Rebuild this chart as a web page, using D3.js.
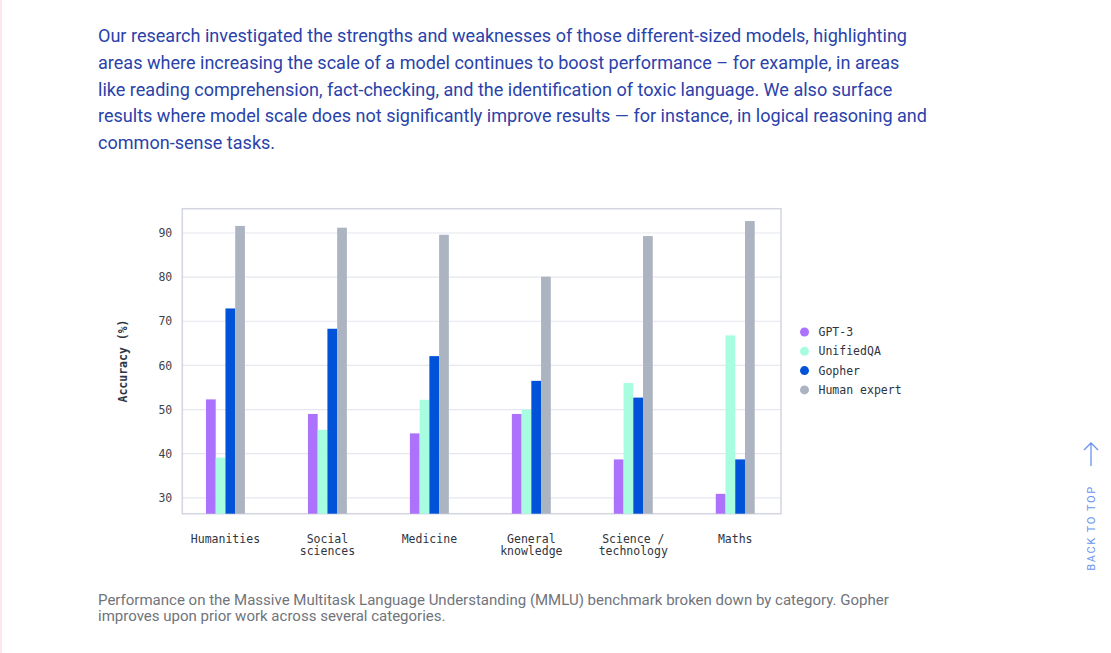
<!DOCTYPE html>
<html>
<head>
<meta charset="utf-8">
<script src="https://cdn.jsdelivr.net/npm/d3@7"></script>
<style>
  html, body { margin: 0; padding: 0; background: #ffffff; }
  svg { display: block; }
</style>
</head>
<body>
<svg id="chart" width="1111" height="653"></svg>
<script>
// ---- Data ----
const categories = ["Humanities", "Social\nsciences", "Medicine", "General\nknowledge", "Science /\ntechnology", "Maths"];
const seriesNames = ["GPT-3", "UnifiedQA", "Gopher", "Human expert"];
const gpt3 = [52.3, 49.0, 44.6, 49.0, 38.7, 30.9];
const unifiedQA = [39.1, 45.4, 52.2, 50.0, 56.0, 66.8];
const gopher = [72.9, 68.3, 62.1, 56.5, 52.7, 38.7];
const humanExpert = [91.6, 91.2, 89.6, 80.1, 89.3, 92.7];
const yTicks = [30, 40, 50, 60, 70, 80, 90];
const yDomain = [26.4, 95.5];
const yTitle = "Accuracy (%)";
const introLines = [
  "Our research investigated the strengths and weaknesses of those different-sized models, highlighting",
  "areas where increasing the scale of a model continues to boost performance \u2013 for example, in areas",
  "like reading comprehension, fact-checking, and the identification of toxic language. We also surface",
  "results where model scale does not significantly improve results \u2014 for instance, in logical reasoning and",
  "common-sense tasks."
];
const captionLines = [
  "Performance on the Massive Multitask Language Understanding (MMLU) benchmark broken down by category. Gopher",
  "improves upon prior work across several categories."
];
const backToTop = "BACK TO TOP";

const seriesValues = [gpt3, unifiedQA, gopher, humanExpert];
const colors = ["#ad72fc", "#a8fde0", "#0053d8", "#adb4c1"];

const svg = d3.select("#chart");

// left pink border
svg.append("rect").attr("x", 0).attr("y", 0).attr("width", 2).attr("height", 653).attr("fill", "#fde6ef");

// ---- Intro paragraph ----
const intro = svg.append("g").selectAll("text").data(introLines).join("text")
  .attr("x", 98)
  .attr("y", (d, i) => 42 + i * 26.8)
  .attr("fill", "#2a42aa")
  .style("font-family", "Roboto, 'Noto Sans', sans-serif")
  .style("font-size", "18px")
  .text(d => d);
{
  const w = intro.nodes()[3].getComputedTextLength();
  intro.style("font-size", (18 * 830 / w) + "px");
}

// ---- Caption ----
const cap = svg.append("g").selectAll("text").data(captionLines).join("text")
  .attr("x", 98)
  .attr("y", (d, i) => 605 + i * 16)
  .attr("fill", "#70747b")
  .style("font-family", "Roboto, 'Noto Sans', sans-serif")
  .style("font-size", "14px")
  .text(d => d);
{
  const w = cap.nodes()[0].getComputedTextLength();
  cap.style("font-size", (14 * 791 / w) + "px");
}

// ---- Chart ----
const plot = { left: 182.3, right: 781, top: 208.7, bottom: 513.7 };
const x0 = d3.scaleBand().domain(categories).range([plot.left, plot.right])
  .paddingInner(0.618).paddingOuter(0.245).align(0.474);
const x1 = d3.scaleBand().domain(seriesNames).range([0, x0.bandwidth()]);
const y = d3.scaleLinear().domain(yDomain).range([plot.bottom, plot.top]);

const mono = "'DejaVu Sans Mono', 'Liberation Mono', monospace";

// gridlines
svg.append("g").selectAll("line").data(yTicks).join("line")
  .attr("x1", plot.left).attr("x2", plot.right)
  .attr("y1", d => y(d)).attr("y2", d => y(d))
  .attr("stroke", "#e6e7ef").attr("stroke-width", 1.2);

// frame
svg.append("rect")
  .attr("x", plot.left).attr("y", plot.top)
  .attr("width", plot.right - plot.left).attr("height", plot.bottom - plot.top)
  .attr("fill", "none").attr("stroke", "#d3d6e1").attr("stroke-width", 1.5);

// y axis
const yAxis = d3.axisLeft(y).tickValues(yTicks).tickSize(0).tickPadding(10);
const yg = svg.append("g").attr("transform", `translate(${plot.left},0)`).call(yAxis);
yg.select(".domain").remove();
yg.selectAll("text").attr("fill", "#3c4350").style("font-family", mono).style("font-size", "11.5px");

// y title
svg.append("text")
  .attr("transform", `translate(127,361) rotate(-90)`)
  .attr("text-anchor", "middle")
  .attr("fill", "#2e3441")
  .style("font-family", mono).style("font-size", "11.5px").style("font-weight", "bold")
  .text(yTitle);

// bars
const groups = svg.append("g").selectAll("g").data(categories).join("g")
  .attr("transform", d => `translate(${x0(d)},0)`);
groups.selectAll("rect")
  .data((c, ci) => seriesNames.map((s, si) => ({ s, v: seriesValues[si][ci], si })))
  .join("rect")
  .attr("x", d => x1(d.s))
  .attr("width", x1.bandwidth())
  .attr("y", d => y(d.v))
  .attr("height", d => plot.bottom - y(d.v))
  .attr("fill", d => colors[d.si]);

// x labels
const xl = svg.append("g").selectAll("text").data(categories).join("text")
  .attr("x", d => x0(d) + x0.bandwidth() / 2)
  .attr("y", 543)
  .attr("text-anchor", "middle")
  .attr("fill", "#2e3441")
  .style("font-family", mono).style("font-size", "11.5px");
xl.selectAll("tspan").data(d => d.split("\n")).join("tspan")
  .attr("x", function () { return d3.select(this.parentNode).attr("x"); })
  .attr("dy", (d, i) => i === 0 ? 0 : 12)
  .text(d => d);

// legend
const leg = svg.append("g").selectAll("g").data(seriesNames).join("g")
  .attr("transform", (d, i) => `translate(804.5,${332 + i * 19.3})`);
leg.append("circle").attr("r", 4.5).attr("fill", (d, i) => colors[i]);
leg.append("text").attr("x", 14).attr("y", 4)
  .attr("fill", "#2e3441")
  .style("font-family", mono).style("font-size", "11.5px")
  .text(d => d);

// back to top
const btt = "#6b93f2";
svg.append("path")
  .attr("d", "M1091,466 L1091,443 M1084,450 L1091,443 L1098,450")
  .attr("fill", "none").attr("stroke", btt).attr("stroke-width", 1.3);
svg.append("text")
  .attr("transform", "translate(1095,528) rotate(-90)")
  .attr("text-anchor", "middle")
  .attr("fill", btt)
  .style("font-family", "Roboto, 'Noto Sans', sans-serif")
  .style("font-size", "11px")
  .style("letter-spacing", "1.6px")
  .text(backToTop);
</script>
</body>
</html>
